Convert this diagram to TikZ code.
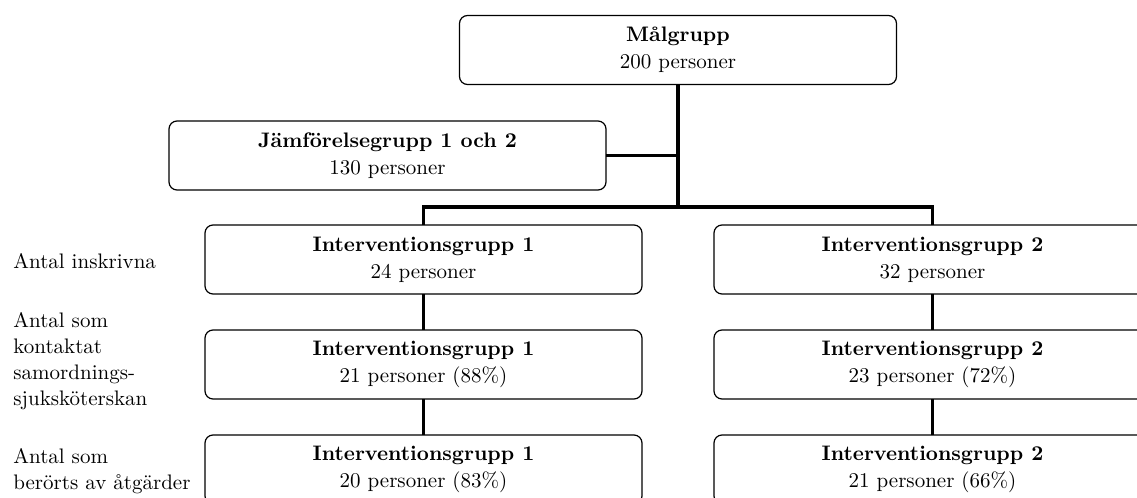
\documentclass[tikz,border=0pt]{standalone}
\begin{document}
\begin{tikzpicture}[x=0.5pt,y=-0.5pt,
  box/.style={draw, line width=0.6pt, rounded corners=4pt, minimum width=218.5pt, minimum height=34.5pt,
    inner sep=0pt, outer sep=0pt, align=center, font=\fontsize{10.5}{13.5}\selectfont},
  link/.style={line width=1.6pt, line join=miter},
  lbl/.style={anchor=north west, align=left, inner sep=0pt, font=\fontsize{10.5}{13}\selectfont}]
\useasboundingbox (0,0) rectangle (1137,498);
\clip (0,0) rectangle (1137,498);
% boxes
\node[box] (mal) at (678,50) {\textbf{Målgrupp}\\200 personer};
\node[box] (jam) at (387.5,155.5) {\textbf{Jämförelsegrupp 1 och 2}\\130 personer};
\node[box] (ia) at (423.5,259.5) {\textbf{Interventionsgrupp 1}\\24 personer};
\node[box] (ib) at (423.5,364.5) {\textbf{Interventionsgrupp 1}\\21 personer (88\%)};
\node[box] (ic) at (423.5,469.5) {\textbf{Interventionsgrupp 1}\\20 personer (83\%)};
\node[box] (ja) at (932.5,259.5) {\textbf{Interventionsgrupp 2}\\32 personer};
\node[box] (jb) at (932.5,364.5) {\textbf{Interventionsgrupp 2}\\23 personer (72\%)};
\node[box] (jc) at (932.5,469.5) {\textbf{Interventionsgrupp 2}\\21 personer (66\%)};
% labels
\node[lbl] (l1) at (13,253) {Antal inskrivna};
\node[lbl] (l2) at (13,312) {Antal som\\kontaktat\\samordnings-\\sjuksköterskan};
\node[lbl] (l3) at (13,448) {Antal som\\berörts av åtgärder};
% connectors
\coordinate (bus) at (678,207);
\draw[link] (mal.south) -- (bus);
\draw[link] (jam.east) -- (jam.east -| bus);
\draw[link] (ia.north) |- (bus) -| (ja.north);
\draw[link] (ia.south) -- (ib.north);
\draw[link] (ib.south) -- (ic.north);
\draw[link] (ja.south) -- (jb.north);
\draw[link] (jb.south) -- (jc.north);
\end{tikzpicture}
\end{document}
